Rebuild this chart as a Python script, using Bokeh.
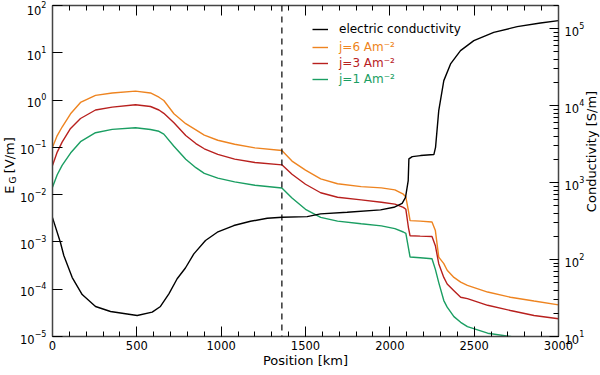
import numpy as np
from bokeh.plotting import figure
from bokeh.models import (Range1d, LogAxis, LinearAxis, LogTicker, FixedTicker,
                          SingleIntervalTicker, Span, Label, Legend, LegendItem,
                          LogScale, LogTickFormatter)
from bokeh.embed import file_html
from bokeh.resources import INLINE

# ---------------- data ----------------
x_field = [0, 28, 57, 107, 166, 255, 354, 492, 581, 631, 660, 720, 790, 850, 900,
           980, 1080, 1200, 1360, 1420, 1500, 1590, 1690, 1830, 1950, 2030, 2080,
           2095, 2110, 2120, 2180, 2250, 2270, 2290, 2320, 2340, 2380, 2420, 2460,
           2580, 2715, 2855, 3000]
# log10 of E_G [V/m]
log10_e6 = [-1.00, -0.75, -0.57, -0.29, -0.05, 0.10, 0.15, 0.19, 0.15, 0.06, -0.01,
            -0.29, -0.50, -0.63, -0.74, -0.85, -0.935, -1.01, -1.066, -1.29, -1.48,
            -1.665, -1.77, -1.83, -1.856, -1.90, -1.99, -2.05, -2.34, -2.55, -2.56,
            -2.58, -2.76, -3.32, -3.46, -3.60, -3.75, -3.85, -3.92, -4.06, -4.17,
            -4.25, -4.33]
log10_e3 = [-1.383, -1.10, -0.89, -0.60, -0.39, -0.21, -0.15, -0.10, -0.136, -0.21,
            -0.28, -0.48, -0.75, -0.92, -1.03, -1.15, -1.25, -1.32, -1.37, -1.57,
            -1.78, -1.96, -2.055, -2.11, -2.16, -2.20, -2.27, -2.31, -2.69, -2.87,
            -2.878, -2.885, -3.08, -3.46, -3.75, -3.89, -4.03, -4.17, -4.20, -4.34,
            -4.45, -4.555, -4.625]
log10_e1 = [-1.842, -1.58, -1.38, -1.12, -0.88, -0.69, -0.62, -0.586, -0.622, -0.66,
            -0.72, -0.975, -1.25, -1.43, -1.55, -1.65, -1.73, -1.80, -1.86, -2.07,
            -2.31, -2.48, -2.56, -2.615, -2.66, -2.72, -2.79, -2.82, -3.12, -3.32,
            -3.335, -3.356, -3.58, -3.86, -4.24, -4.38, -4.58, -4.70, -4.79, -4.93,
            -5.0, -5.12, -5.22]

x_cond = [0, 47, 67, 117, 176, 255, 344, 502, 591, 640, 690, 739, 788, 838, 907,
          977, 1075, 1174, 1273, 1362, 1510, 1589, 1747, 1945, 2024, 2073, 2093,
          2109, 2113, 2133, 2182, 2261, 2271, 2290, 2320, 2360, 2419, 2498, 2616,
          2755, 2893, 3000]
# log10 of conductivity [S/m]
log10_cond = [2.545, 2.221, 2.052, 1.766, 1.545, 1.39, 1.325, 1.273, 1.316, 1.39,
              1.555, 1.75, 1.89, 2.074, 2.247, 2.355, 2.442, 2.497, 2.536, 2.549,
              2.558, 2.594, 2.614, 2.645, 2.679, 2.731, 2.809, 3.026, 3.308, 3.338,
              3.351, 3.364, 3.458, 3.935, 4.325, 4.542, 4.714, 4.844, 4.952, 5.026,
              5.074, 5.104]

dashed_x = 1360
left_ticks = [1e-5, 1e-4, 1e-3, 1e-2, 1e-1, 1e0, 1e1, 1e2]
legend_labels = ["electric conductivity", "j=6 Am\u207b\u00b2", "j=3 Am\u207b\u00b2", "j=1 Am\u207b\u00b2"]

C_ORANGE = "#EE8420"
C_RED = "#B8201E"
C_GREEN = "#1A9E62"
FONT = "DejaVu Sans"

# ---------------- figure ----------------
p = figure(frame_width=506, frame_height=331,
           x_range=Range1d(0, 3000), y_range=Range1d(1e-5, 1e2),
           y_axis_type="log", output_backend="svg", toolbar_location=None,
           min_border_left=52, min_border_right=42, min_border_top=5,
           min_border_bottom=39)
p.outline_line_color = None
p.grid.visible = False
p.background_fill_color = "white"
p.border_fill_color = "white"

p.extra_y_ranges = {"cond": Range1d(10, 2e5)}
p.extra_y_scales = {"cond": LogScale()}

AX_COLOR = "#444444"

def style_axis(ax):
    ax.axis_line_color = AX_COLOR
    ax.axis_line_width = 1.5
    ax.major_tick_line_color = "black"
    ax.minor_tick_line_color = "black"
    ax.major_tick_in = 10
    ax.major_tick_out = 0
    ax.minor_tick_in = 5
    ax.minor_tick_out = 0
    ax.major_label_text_font = FONT
    ax.major_label_text_font_size = "11.5px"
    ax.major_label_text_color = "black"
    ax.axis_label_text_font = FONT
    ax.axis_label_text_font_size = "13px"
    ax.axis_label_text_font_style = "normal"
    ax.axis_label_text_color = "black"

# bottom x axis
xax = p.xaxis[0]
xax.ticker = SingleIntervalTicker(interval=500, num_minor_ticks=5)
style_axis(xax)
xax.axis_label = "Position [km]"
xax.major_label_standoff = 4
xax.axis_label_standoff = 0

# left y axis
yax = p.yaxis[0]
yax.ticker = FixedTicker(ticks=left_ticks, minor_ticks=[])
yax.formatter = LogTickFormatter()
style_axis(yax)
yax.major_label_standoff = 6

# top axis (ticks only)
tax = LinearAxis(ticker=SingleIntervalTicker(interval=500, num_minor_ticks=5))
style_axis(tax)
tax.major_label_text_font_size = "1px"
tax.major_label_text_color = None
tax.major_label_standoff = 0
p.add_layout(tax, "above")

# right axis
rax = LogAxis(y_range_name="cond", ticker=LogTicker(num_minor_ticks=10))
style_axis(rax)
rax.major_tick_in = 9
rax.major_label_standoff = 6
p.add_layout(rax, "right")

# ---------------- curves ----------------
xe = np.array(x_field, dtype=float)
r6 = p.line(xe, 10 ** np.array(log10_e6), line_color=C_ORANGE, line_width=1.4)
r3 = p.line(xe, 10 ** np.array(log10_e3), line_color=C_RED, line_width=1.4)
r1 = p.line(xe, 10 ** np.array(log10_e1), line_color=C_GREEN, line_width=1.4)
rc = p.line(np.array(x_cond, dtype=float), 10 ** np.array(log10_cond),
            line_color="black", line_width=1.4, y_range_name="cond")

p.add_layout(Span(location=dashed_x, dimension="height", line_color="black",
                  line_width=1.2, line_dash="6 5"))

# ---------------- legends (one per row, coloured text) ----------------
rows = [(rc, "black", 307), (r6, C_ORANGE, 289.5), (r3, C_RED, 273.5), (r1, C_GREEN, 257)]
for (rend, col, yc), lab in zip(rows, legend_labels):
    lg = Legend(items=[LegendItem(label=lab, renderers=[rend])],
                location=(260, yc - 7), padding=0, margin=0, spacing=0,
                glyph_width=16, glyph_height=14, label_height=14,
                label_standoff=11, border_line_color=None,
                background_fill_alpha=0, label_text_color=col,
                label_text_font=FONT, label_text_font_size="12px")
    p.add_layout(lg)

# ---------------- rotated axis titles (canvas coordinates, side panels) ----------------
def add_lab(text, x, y, side, size="13px"):
    p.add_layout(Label(x=x, y=y, x_units="canvas", y_units="canvas", text=text,
                       angle=np.pi / 2, text_font=FONT, text_font_size=size,
                       text_align="center", text_baseline="middle",
                       text_color="black"), side)

add_lab("E\u00a0\u00a0\u00a0[V/m]", 9, 165, "left")
add_lab("G", 12.5, 179.5, "below", "9px")
add_lab("Conductivity [S/m]", 591, 151, "right")

open("out.html", "w").write(file_html(p, INLINE))
